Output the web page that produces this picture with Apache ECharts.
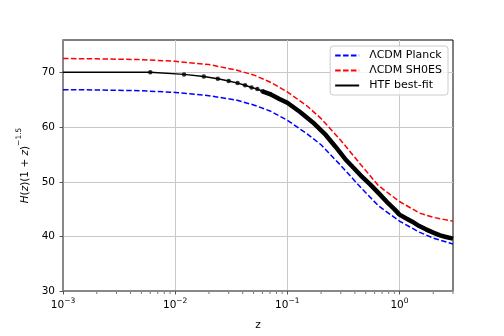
<!doctype html>
<html>
<head>
<meta charset="utf-8">
<style>
  html, body { margin: 0; padding: 0; background: #fff; }
  #main { width: 504px; height: 336px; }
</style>
</head>
<body>
<div id="main"></div>
<script src="https://cdn.jsdelivr.net/npm/echarts@6/dist/echarts.min.js"></script>
<script>
// redshift samples for the two LCDM curves
var zModel = [0.001, 0.002, 0.005, 0.01, 0.02, 0.035, 0.05, 0.07, 0.1, 0.15, 0.2, 0.3, 0.45, 0.65, 1.0, 1.5, 2.0, 3.0];
var planck = [66.9, 66.85, 66.7, 66.4, 65.8, 65.0, 64.1, 63.0, 61.3, 58.8, 56.8, 53.0, 49.0, 45.6, 42.8, 40.8, 39.7, 38.6];
var shoes  = [72.6, 72.55, 72.4, 72.1, 71.5, 70.5, 69.6, 68.3, 66.5, 63.9, 61.6, 57.6, 53.2, 49.3, 46.4, 44.3, 43.5, 42.8];

// HTF best fit (points with markers from 0.006 on)
var zHtf = [0.001, 0.006, 0.012, 0.018, 0.024, 0.030, 0.036, 0.042, 0.048, 0.054, 0.060, 0.07, 0.085, 0.1, 0.13, 0.169, 0.22, 0.27, 0.334, 0.45, 0.55, 0.661, 0.8, 0.9, 1.0, 1.15, 1.3, 1.5, 1.72, 2.0, 2.3, 2.6, 3.0];
var htf  = [70.1, 70.1, 69.7, 69.3, 68.9, 68.5, 68.1, 67.7, 67.3, 67.0, 66.6, 66.1, 65.2, 64.5, 62.8, 60.9, 58.6, 56.4, 54.0, 51.2, 49.5, 47.8, 46.0, 45.0, 44.0, 43.3, 42.7, 41.9, 41.3, 40.7, 40.2, 39.9, 39.6];

var xMajor = [0.001, 0.01, 0.1, 1];
var xMinor = [0.002, 0.003, 0.004, 0.005, 0.006, 0.007, 0.008, 0.009,
              0.02, 0.03, 0.04, 0.05, 0.06, 0.07, 0.08, 0.09,
              0.2, 0.3, 0.4, 0.5, 0.6, 0.7, 0.8, 0.9, 2, 3];
var yTicks = [30, 40, 50, 60, 70];

function pairs(xs, ys) {
    return xs.map(function (x, i) { return [x, ys[i]]; });
}

var htfData = pairs(zHtf, htf);
var font = 'DejaVu Sans';

var chart = echarts.init(document.getElementById('main'));

chart.setOption({
    animation: false,
    textStyle: { fontFamily: font },
    grid: {
        left: 63, right: 51, top: 40, bottom: 42,
        show: true, borderColor: '#000', borderWidth: 1
    },
    legend: {
        orient: 'vertical',
        right: 56, top: 46,
        padding: [4, 6, 4, 4],
        itemWidth: 24, itemHeight: 10, itemGap: 4,
        backgroundColor: 'rgba(255,255,255,0.8)',
        borderColor: '#ccc', borderWidth: 1, borderRadius: 3,
        itemStyle: { opacity: 0 },
        textStyle: { fontSize: 11, color: '#000', fontFamily: font, padding: [0, 0, 0, 5] },
        data: ['ΛCDM Planck', 'ΛCDM SH0ES', 'HTF best-fit']
    },
    xAxis: {
        type: 'log',
        logBase: 10,
        min: 0.001,
        max: 3,
        name: 'z',
        nameLocation: 'middle',
        nameGap: 29,
        nameTextStyle: { fontSize: 10.5, color: '#000', fontFamily: font },
        axisLine: { lineStyle: { color: '#888', width: 2 } },
        axisTick: { show: true, length: 3.5, customValues: xMajor, lineStyle: { color: '#555' } },
        splitLine: { show: true, lineStyle: { color: '#c8c8c8', width: 1 } },
        axisLabel: {
            margin: 6,
            color: '#000',
            fontSize: 10.5,
            customValues: xMajor,
            formatter: function (v) {
                var e = Math.round(Math.log10(v));
                return '{b|10}{s|' + (e < 0 ? '\u2212' : '') + Math.abs(e) + '}';
            },
            rich: {
                b: { fontSize: 10.5, lineHeight: 14, verticalAlign: 'bottom', fontFamily: font },
                s: { fontSize: 7.5, lineHeight: 14, verticalAlign: 'top', fontFamily: font }
            }
        }
    },
    yAxis: {
        type: 'value',
        min: 30,
        max: 76,
        interval: 10,
        name: '{i|H}{n|(}{i|z}{n|)(1 + }{i|z}{n|)}{s|\u22121.5}',
        nameLocation: 'middle',
        nameRotate: 90,
        nameGap: 30,
        nameTextStyle: {
            fontSize: 10.5, color: '#000', fontFamily: font,
            rich: {
                n: { fontSize: 10.5, lineHeight: 16, verticalAlign: 'bottom', fontFamily: font },
                i: { fontSize: 10.5, lineHeight: 16, verticalAlign: 'bottom', fontStyle: 'italic', fontFamily: font },
                s: { fontSize: 7.5, lineHeight: 16, verticalAlign: 'top', fontFamily: font }
            }
        },
        axisLine: { show: true, lineStyle: { color: '#888', width: 2 } },
        axisTick: { show: true, length: 3.5, customValues: yTicks, lineStyle: { color: '#555' } },
        splitLine: { show: true, lineStyle: { color: '#c8c8c8', width: 1 } },
        axisLabel: {
            margin: 8,
            color: '#000',
            fontSize: 10.5,
            customValues: yTicks
        }
    },
    series: [
        {
            name: 'ΛCDM Planck',
            type: 'line',
            symbol: 'none',
            color: '#0000ff',
            lineStyle: { color: '#0000ff', width: 1.5, type: [5.5, 2.4] },
            data: pairs(zModel, planck),
            z: 3
        },
        {
            name: 'ΛCDM SH0ES',
            type: 'line',
            symbol: 'none',
            color: '#ff0000',
            lineStyle: { color: '#ff0000', width: 1.5, type: [5.5, 2.4] },
            data: pairs(zModel, shoes),
            z: 3
        },
        {
            name: 'HTF best-fit',
            type: 'line',
            symbol: 'none',
            color: '#000',
            lineStyle: { color: '#000', width: 1.5 },
            data: htfData,
            z: 4
        },
        {
            // dense markers merge into a thick band at larger z
            type: 'line',
            symbol: 'none',
            lineStyle: { color: '#000', width: 4.5 },
            data: htfData.filter(function (d) { return d[0] >= 0.06; }),
            z: 4
        },
        {
            type: 'scatter',
            symbol: 'circle',
            symbolSize: 4.5,
            itemStyle: { color: '#000' },
            data: htfData.filter(function (d) { return d[0] >= 0.006 && d[0] <= 0.07; }),
            z: 5
        },
        {
            // minor ticks of the log axis
            type: 'custom',
            silent: true,
            clip: false,
            data: xMinor.map(function (v) { return [v, 30]; }),
            encode: { x: 0, y: 1 },
            renderItem: function (params, api) {
                var p = api.coord([api.value(0), api.value(1)]);
                return {
                    type: 'line',
                    shape: { x1: p[0], y1: p[1] + 1, x2: p[0], y2: p[1] + 3 },
                    style: { stroke: '#555', lineWidth: 0.8 }
                };
            }
        }
    ]
});

window.onresize = chart.resize;
</script>
</body>
</html>
